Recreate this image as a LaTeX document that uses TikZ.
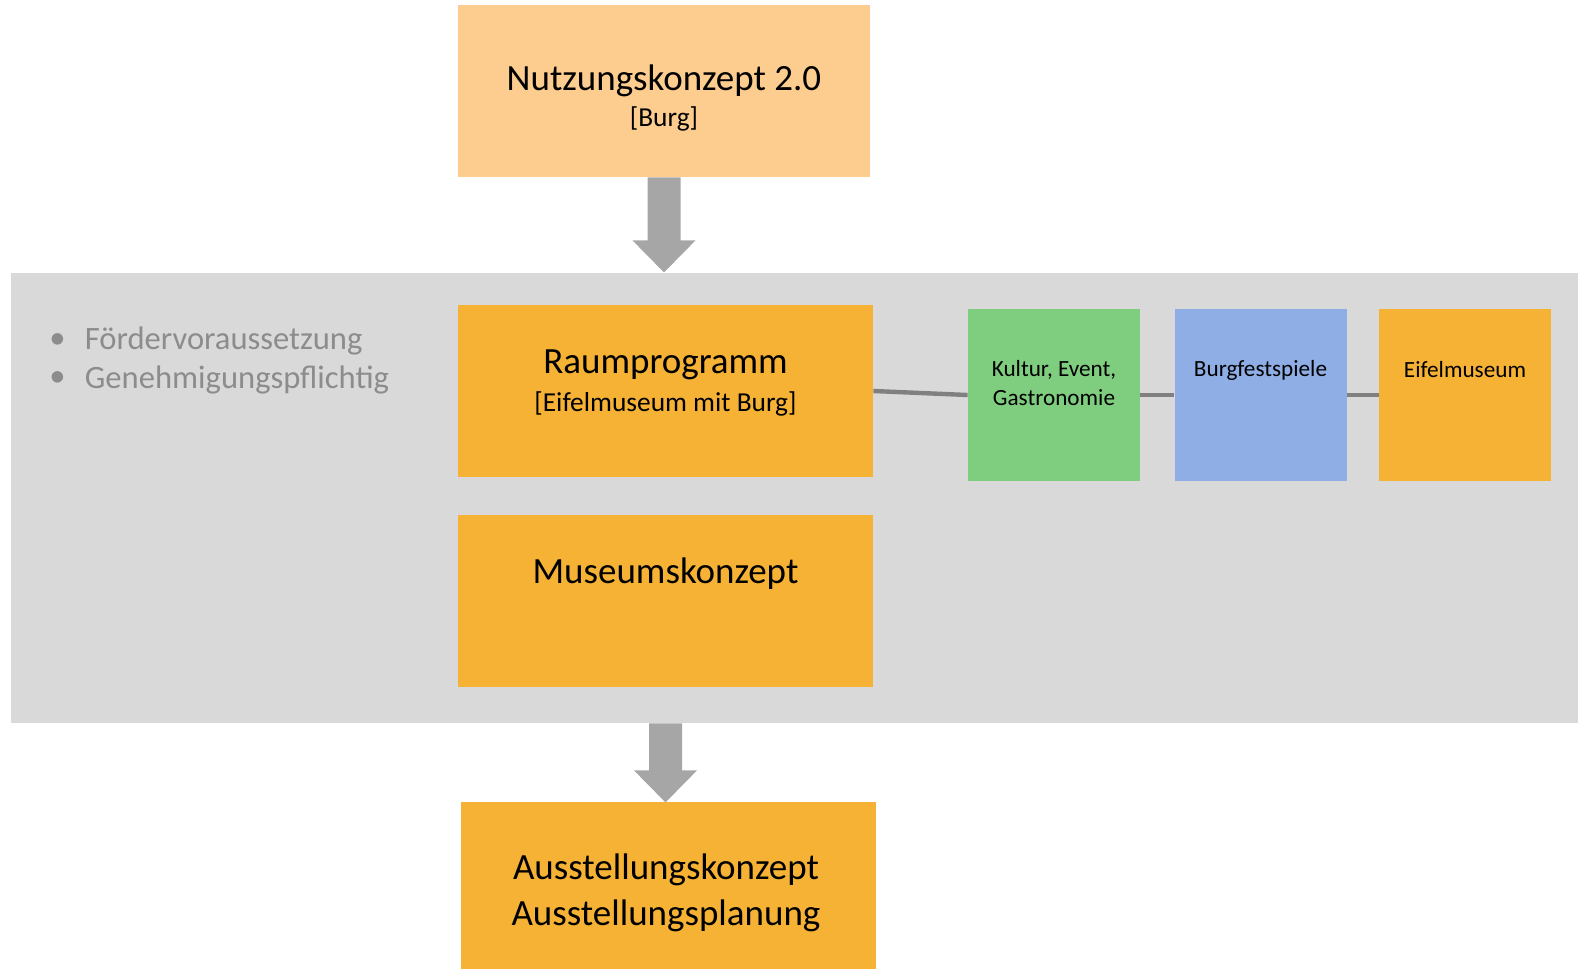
\documentclass[tikz,border=0pt]{standalone}
\usepackage{fontspec}
\setmainfont{Carlito}
\usetikzlibrary{positioning}

\definecolor{hellorange}{HTML}{FDCD90}
\definecolor{kastenorange}{HTML}{F6B234}
\definecolor{kulturgruen}{HTML}{7FCD7F}
\definecolor{festblau}{HTML}{8FAEE6}
\definecolor{bandgrau}{HTML}{D9D9D9}
\definecolor{pfeilgrau}{HTML}{A6A6A6}
\definecolor{liniengrau}{HTML}{808080}
\definecolor{textgrau}{HTML}{8C8C8C}

\begin{document}
\begin{tikzpicture}[x=0.5pt,y=-0.5pt,
    box/.style={fill=#1, minimum width=207.5pt, minimum height=86pt, inner sep=0pt},
    kleinbox/.style={fill=#1, minimum width=86pt, minimum height=86pt, inner sep=0pt},
    gross/.style={font=\fontsize{18.5}{22}\selectfont, inner sep=0pt},
    mittel/.style={font=\fontsize{13.7}{16}\selectfont, inner sep=0pt},
    kleintext/.style={font=\fontsize{11.6}{14}\selectfont, inner sep=0pt},
    punkt/.style={font=\fontsize{16.3}{19}\selectfont, text=textgrau, inner sep=0pt},
    pfeil/.style={fill=pfeilgrau},
    verbinder/.style={draw=liniengrau, line width=2.2pt}
]
\useasboundingbox (0,0) rectangle (1578,970);

\node (band) at (794.5,498) [fill=bandgrau, minimum width=783.5pt, minimum height=225pt, inner sep=0pt] {};

\node (nutz) at (664,91) [box=hellorange, minimum width=206pt] {};
\node (raum) at (665.5,391) [box=kastenorange] {};
\node (museum) at (665.5,601) [box=kastenorange] {};
\node (ausst) at (668.5,885.5) [box=kastenorange, minimum height=83.5pt] {};

\node (kultur) at (1054,395) [kleinbox=kulturgruen] {};
\node (burgfest) at (1260.5,395) [kleinbox=festblau] {};
\node (eifel) at (1465,395) [kleinbox=kastenorange] {};

\node (nutztitel) at (664,80.5) [gross] {Nutzungskonzept 2.0};
\node (nutzzusatz) at (664,119) [mittel] {[Burg]};
\node (raumtitel) at (665.5,365) [gross] {Raumprogramm};
\node (raumzusatz) at (665.5,404) [mittel] {[Eifelmuseum mit Burg]};
\node (museumtitel) at (665.5,574) [gross] {Museumskonzept};
\node (ausstkonzept) at (666,870) [gross] {Ausstellungskonzept};
\node (ausstplanung) at (666,915.5) [gross] {Ausstellungsplanung};

\node (kulturtext) at (1054,370) [kleintext] {Kultur, Event,};
\node (gastrotext) at (1054,397.5) [kleintext] {Gastronomie};
\node (festtext) at (1260.5,370) [kleintext] {Burgfestspiele};
\node (eifeltext) at (1465,370) [kleintext] {Eifelmuseum};

\foreach \t/\y/\n in {Fördervoraussetzung/341/foerder, Genehmigungspflichtig/379.5/genehm}{
  \node (\n) at (84.5,\y) [punkt, anchor=west] {\t};
  \node (\n-punkt) at (57.5,\y) [punkt] {\textbullet};
}

\fill[pfeil] (nutz.south) ++(-16.5,0) -- ++(0,63) -- ++(-15,0) -- ++(31.5,32)
  -- ++(31.5,-32) -- ++(-15,0) -- ++(0,-63) -- cycle;
\fill[pfeil] (museum.south |- band.south) ++(-16.5,0) -- ++(0,47) -- ++(-15,0) -- ++(31.5,32)
  -- ++(31.5,-32) -- ++(-15,0) -- ++(0,-47) -- cycle;

\draw[verbinder] (raum.east) -- (kultur.west);
\draw[verbinder] (kultur.east) -- (burgfest.west);
\draw[verbinder] (burgfest.east) -- (eifel.west);

\end{tikzpicture}
\end{document}
